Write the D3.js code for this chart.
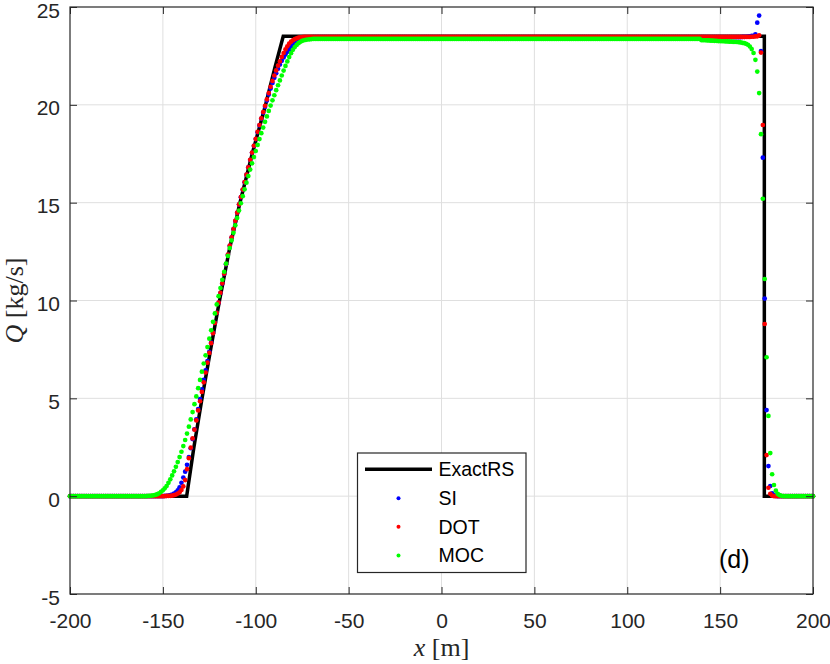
<!DOCTYPE html>
<html><head><meta charset="utf-8">
<script src="https://cdn.jsdelivr.net/npm/d3@7"></script>
<style>
body{margin:0;background:#fff;}
svg{display:block;}
</style>
</head><body>
<svg id="chart" width="830" height="664"></svg>
<script>
// ---------- data ----------
const xTicks = [-200, -150, -100, -50, 0, 50, 100, 150, 200];
const yTicks = [-5, 0, 5, 10, 15, 20, 25];
const seriesNames = ["ExactRS", "SI", "DOT", "MOC"];
const seriesColors = ["#000000", "#0000ff", "#ff0000", "#00ff00"];

// Exact Riemann solution (polyline vertices)
const exactX = [-200, -137.2, -133.3, -129.1, -124.3, -119.5, -114.2, -108.5, -101.9, -94.7, -89.7, -85.2, 173.8, 173.8, 200];
const exactQ = [0, 0, 2.5, 4.9, 7.5, 10, 12.6, 15, 17.5, 20, 21.9, 23.5, 23.5, 0, 0];

// numerical grid (1 m cells)
const gridX = d3.range(-200, 201, 1);

// SI
const siRampStart = -149;
const siRampQ = [0.01,0.02,0.03,0.05,0.08,0.13,0.2,0.3,0.45,0.68,
  0.95,1.25,1.6,2.0,2.45,2.92,3.42,3.93,4.45,4.96,
  5.46,5.95,6.43,6.9,7.38,7.85,8.35,8.86,9.37,9.88,
  10.38,10.87,11.36,11.85,12.33,12.79,13.22,13.64,14.06,14.48,
  14.9,15.28,15.66,16.04,16.42,16.8,17.18,17.55,17.9,18.25,
  18.6,18.95,19.29,19.6,19.9,20.22,20.53,20.83,21.12,21.38,
  21.62,21.85,22.06,22.25,22.42,22.57,22.71,22.83,22.94,23.04,
  23.12,23.19,23.25,23.3,23.34,23.37,23.4,23.42,23.43,23.44];
const siPlateauQ = 23.46;
const siShockStart = 160;
const siShockQ = [23.46,23.46,23.47,23.47,23.48,23.49,23.5,23.52,23.52,23.6,
  24.2,24.56,22.75,17.3,10.1,4.4,1.54,0.52,0.15,0.04,0.01];

// DOT
const dotRampStart = -148;
const dotRampQ = [0.01,0.01,0.02,0.03,0.05,0.08,0.13,0.2,0.32,
  0.5,0.82,1.38,1.94,2.48,2.95,3.4,3.87,4.38,4.85,
  5.33,5.82,6.32,6.82,7.32,7.82,8.33,8.85,9.37,9.89,
  10.39,10.88,11.37,11.86,12.34,12.8,13.23,13.65,14.07,14.49,
  14.91,15.29,15.67,16.05,16.43,16.81,17.19,17.56,17.91,18.26,
  18.62,18.97,19.31,19.63,19.95,20.28,20.6,20.92,21.22,21.5,
  21.76,22.0,22.22,22.45,22.65,22.83,22.99,23.13,23.23,23.3,
  23.36,23.4,23.43,23.45,23.46];
const dotPlateauQ = 23.47;
const dotShockStart = 166;
const dotShockQ = [23.47,23.48,23.48,23.5,23.5,23.55,
  22.67,18.97,8.8,2.1,0.43,0.12,0.03];

// MOC
const mocRampStart = -158;
const mocRampQ = [0.01,0.015,0.03,0.045,0.065,0.1,0.15,0.22,
  0.3,0.4,0.52,0.68,0.86,1.06,1.27,1.5,1.74,2.0,
  2.27,2.56,2.87,3.2,3.55,3.92,4.3,4.7,5.1,5.52,
  5.94,6.36,6.78,7.2,7.62,8.05,8.48,8.91,9.34,9.8,
  10.22,10.64,11.06,11.47,11.88,12.28,12.68,13.07,13.46,13.84,
  14.22,14.6,14.97,15.33,15.68,16.02,16.36,16.69,17.01,17.33,
  17.64,17.95,18.25,18.55,18.84,19.13,19.41,19.69,19.96,20.23,
  20.49,20.75,21.0,21.25,21.5,21.75,21.99,22.22,22.44,22.64,
  22.81,22.95,23.06,23.15,23.22,23.27,23.3,23.32,23.34,23.35,
  23.36,23.37];
const mocPlateauQ = 23.37;
const mocShockStart = 140;
const mocShockQ = [23.3,23.3,23.3,23.29,23.29,23.28,23.28,23.27,23.27,23.26,
  23.26,23.25,23.25,23.24,23.24,23.23,23.23,23.22,23.22,23.21,
  23.2,23.19,23.17,23.15,23.12,23.07,22.98,22.85,22.65,22.3,
  21.7,20.6,18.5,15.2,11.1,7.1,4.1,2.2,1.12,0.57,
  0.28,0.12,0.05,0.02];

// ---------- build ----------
function buildSeries(rampStart, rampQ, plateauQ, shockStart, shockQ) {
  return gridX.map(x => {
    let q = 0;
    if (x >= rampStart) {
      const r = x - rampStart;
      if (r < rampQ.length) q = rampQ[r];
      else if (x < shockStart) q = plateauQ;
      else {
        const s = x - shockStart;
        q = s < shockQ.length ? shockQ[s] : 0;
      }
    }
    return {x, q};
  });
}
const siData = buildSeries(siRampStart, siRampQ, siPlateauQ, siShockStart, siShockQ);
const dotData = buildSeries(dotRampStart, dotRampQ, dotPlateauQ, dotShockStart, dotShockQ);
const mocData = buildSeries(mocRampStart, mocRampQ, mocPlateauQ, mocShockStart, mocShockQ);
const exactData = exactX.map((x, i) => ({x, q: exactQ[i]}));

// ---------- chart ----------
const L = 70, R = 813, T = 7, B = 594;
const svg = d3.select("#chart");
const x = d3.scaleLinear().domain([-200, 200]).range([L, R]);
const y = d3.scaleLinear().domain([-5, 25]).range([B, T]);
const axisColor = "#262626";
const sans = "'Liberation Sans', Arial, Helvetica, sans-serif";
const serif = "'Liberation Serif', 'Times New Roman', serif";

svg.append("rect").attr("x", 0).attr("y", 0).attr("width", 830).attr("height", 664).attr("fill", "#fff");

// grid
const grid = svg.append("g");
grid.selectAll("line.vx").data(xTicks.slice(1, -1)).join("line")
  .attr("x1", d => x(d)).attr("x2", d => x(d)).attr("y1", T).attr("y2", B)
  .attr("stroke", "#dfdfdf").attr("stroke-width", 1);
grid.selectAll("line.hy").data(yTicks.slice(1, -1)).join("line")
  .attr("y1", d => y(d)).attr("y2", d => y(d)).attr("x1", L).attr("x2", R)
  .attr("stroke", "#dfdfdf").attr("stroke-width", 1);

// data
const line = d3.line().x(d => x(d.x)).y(d => y(d.q));
svg.append("path").datum(exactData).attr("d", line)
  .attr("fill", "none").attr("stroke", seriesColors[0]).attr("stroke-width", 3.5)
  .attr("stroke-linejoin", "miter");

[[siData, seriesColors[1]], [dotData, seriesColors[2]], [mocData, seriesColors[3]]].forEach(([data, col]) => {
  svg.append("g").selectAll("circle").data(data).join("circle")
    .attr("cx", d => x(d.x)).attr("cy", d => y(d.q)).attr("r", 2.35).attr("fill", col);
});

// axes
function styleAxis(g) {
  g.select(".domain").remove();
  g.selectAll(".tick line").attr("stroke", axisColor).attr("stroke-width", 1);
  g.selectAll(".tick text").attr("fill", axisColor).style("font-family", sans).style("font-size", "21px");
}
svg.append("g").attr("transform", `translate(0,${B})`)
  .call(d3.axisBottom(x).tickValues(xTicks).tickSizeInner(-7).tickSizeOuter(0).tickPadding(19).tickFormat(d => String(d)))
  .call(styleAxis);
svg.append("g").attr("transform", `translate(0,${T})`)
  .call(d3.axisTop(x).tickValues(xTicks).tickSizeInner(-7).tickSizeOuter(0).tickFormat(""))
  .call(styleAxis);
const yAxisG = svg.append("g").attr("transform", `translate(${L},0)`)
  .call(d3.axisLeft(y).tickValues(yTicks).tickSizeInner(-7).tickSizeOuter(0).tickPadding(10).tickFormat(d => String(d)))
  .call(styleAxis);
yAxisG.selectAll(".tick text").attr("dy", "0.48em");
svg.append("g").attr("transform", `translate(${R},0)`)
  .call(d3.axisRight(y).tickValues(yTicks).tickSizeInner(-7).tickSizeOuter(0).tickFormat(""))
  .call(styleAxis);

svg.append("rect").attr("x", L).attr("y", T).attr("width", R - L).attr("height", B - T)
  .attr("fill", "none").attr("stroke", axisColor).attr("stroke-width", 1.2);

// axis labels
const xl = svg.append("text").attr("x", (L + R) / 2).attr("y", 656).attr("text-anchor", "middle")
  .style("font-family", serif).style("font-size", "26px").attr("fill", axisColor);
xl.append("tspan").style("font-style", "italic").text("x");
xl.append("tspan").text(" [m]");

const yl = svg.append("text").attr("transform", `translate(23,${(T + B) / 2}) rotate(-90)`).attr("text-anchor", "middle")
  .style("font-family", serif).style("font-size", "26px").attr("fill", axisColor);
yl.append("tspan").style("font-style", "italic").text("Q");
yl.append("tspan").text(" [kg/s]");

// legend
const lg = svg.append("g");
lg.append("rect").attr("x", 357.5).attr("y", 453).attr("width", 168.5).attr("height", 119.5)
  .attr("fill", "#fff").attr("stroke", axisColor).attr("stroke-width", 1.2);
const rowY = [469.3, 498.2, 526.8, 555.4];
lg.append("line").attr("x1", 365).attr("x2", 432).attr("y1", rowY[0]).attr("y2", rowY[0])
  .attr("stroke", seriesColors[0]).attr("stroke-width", 3.5);
[1, 2, 3].forEach(i => {
  lg.append("circle").attr("cx", 398.5).attr("cy", rowY[i]).attr("r", 2).attr("fill", seriesColors[i]);
});
seriesNames.forEach((n, i) => {
  lg.append("text").attr("x", 438.5).attr("y", rowY[i]).attr("dy", "0.35em")
    .style("font-family", sans).style("font-size", "19.5px").attr("fill", "#000").text(n);
});

// panel tag
svg.append("text").attr("x", 719).attr("y", 568).style("font-family", sans).style("font-size", "25px")
  .attr("fill", "#000").text("(d)");
</script>
</body></html>
